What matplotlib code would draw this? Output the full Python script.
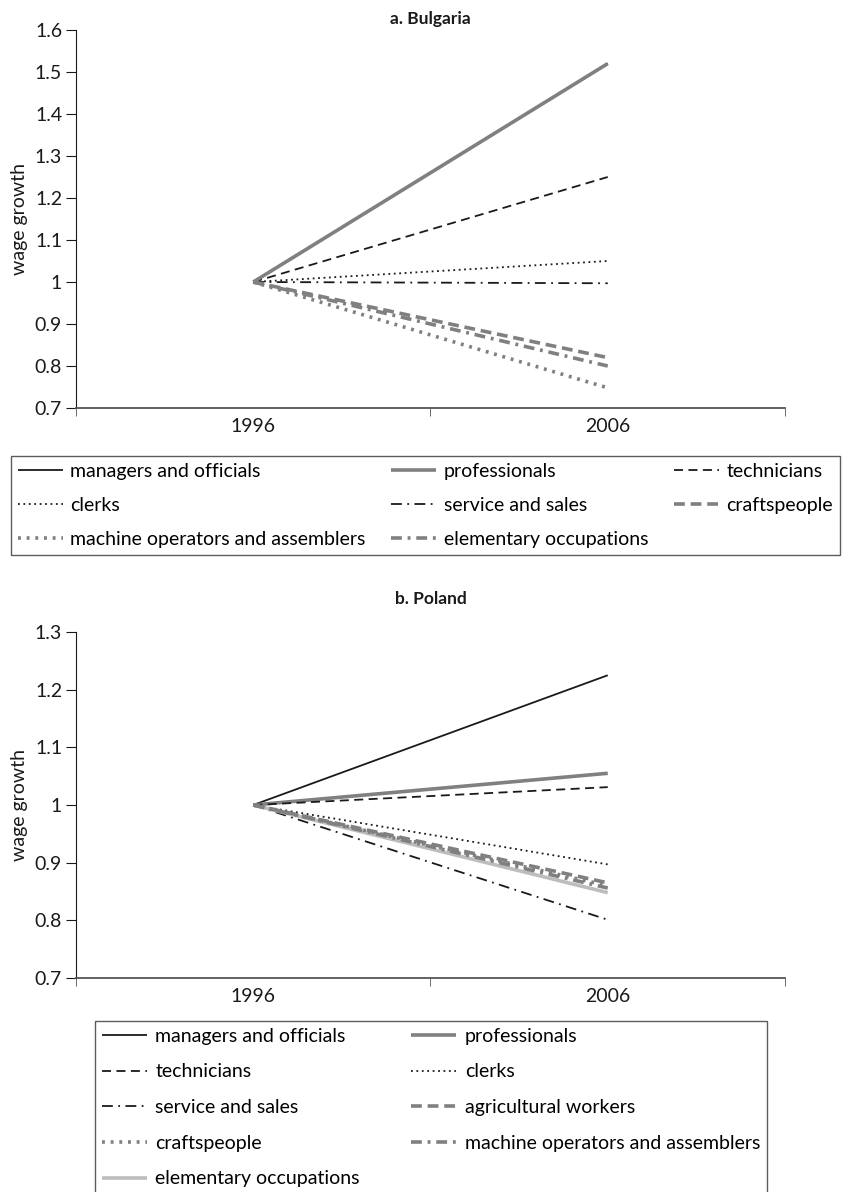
import matplotlib
matplotlib.use("Agg")
import matplotlib.pyplot as plt
from matplotlib.ticker import FuncFormatter

plt.rcParams['font.family'] = ['Lato', 'DejaVu Sans']

years = ["1996", "2006"]

# Bulgaria
bg_labels = ["managers and officials", "professionals", "technicians", "clerks",
             "service and sales", "craftspeople", "machine operators and assemblers",
             "elementary occupations"]
bg_start = [1.0, 1.0, 1.0, 1.0, 1.0, 1.0, 1.0, 1.0]
bg_end = [1.52, 1.52, 1.25, 1.05, 0.997, 0.82, 0.748, 0.80]

# Poland
pl_labels = ["managers and officials", "professionals", "technicians", "clerks",
             "service and sales", "agricultural workers", "craftspeople",
             "machine operators and assemblers", "elementary occupations"]
pl_start = [1.0, 1.0, 1.0, 1.0, 1.0, 1.0, 1.0, 1.0, 1.0]
pl_end = [1.225, 1.055, 1.031, 0.897, 0.801, 0.865, 0.860, 0.856, 0.848]

DK = "#1a1a1a"
GR = "#808080"
LG = "#bdbdbd"
FS = 14

styles = {
    "managers and officials": dict(color=DK, lw=1.3, ls="-"),
    "professionals": dict(color=GR, lw=2.6, ls="-"),
    "technicians": dict(color=DK, lw=1.3, ls=(0, (5, 3))),
    "clerks": dict(color=DK, lw=1.3, ls=(0, (1, 2))),
    "service and sales": dict(color=DK, lw=1.3, ls=(0, (6, 3, 1, 3))),
    "craftspeople_bg": dict(color=GR, lw=2.6, ls=(0, (3, 1.6))),
    "machine_bg": dict(color=GR, lw=2.6, ls=(0, (0.8, 1.6))),
    "elementary_bg": dict(color=GR, lw=2.6, ls=(0, (3, 1.6, 0.8, 1.6))),
    "agricultural workers": dict(color=GR, lw=2.6, ls=(0, (3, 1.6))),
    "craftspeople_pl": dict(color=GR, lw=2.6, ls=(0, (0.8, 1.6))),
    "machine_pl": dict(color=GR, lw=2.6, ls=(0, (3, 1.6, 0.8, 1.6))),
    "elementary_pl": dict(color=LG, lw=2.6, ls="-"),
}

bg_style_keys = ["managers and officials", "professionals", "technicians", "clerks",
                 "service and sales", "craftspeople_bg", "machine_bg", "elementary_bg"]
pl_style_keys = ["managers and officials", "professionals", "technicians", "clerks",
                 "service and sales", "agricultural workers", "craftspeople_pl",
                 "machine_pl", "elementary_pl"]

W, H = 845, 1192
fig = plt.figure(figsize=(W / 100, H / 100), dpi=100)

def fx(px):
    return px / W

def fy(py):
    return 1 - py / H

def style_axes(ax, ymin, ymax, step):
    ax.set_xlim(-0.5, 1.5)
    ax.set_ylim(ymin, ymax)
    n = int(round((ymax - ymin) / step))
    ax.set_yticks([ymin + i * step for i in range(n + 1)])
    ax.yaxis.set_major_formatter(FuncFormatter(lambda v, p: f"{round(v, 2):g}"))
    ax.set_xticks([0, 1])
    ax.set_xticklabels(years)
    ax.set_xticks([-0.5, 0.5, 1.5], minor=True)
    ax.tick_params(axis="x", which="major", length=0, labelsize=FS, pad=7, colors=DK)
    ax.tick_params(axis="x", which="minor", length=6, direction="out", color="#555555")
    ax.tick_params(axis="y", length=7, direction="out", labelsize=FS, colors=DK, pad=3)
    for s in ["top", "right"]:
        ax.spines[s].set_visible(False)
    ax.spines["left"].set_color(DK)
    ax.spines["bottom"].set_color("#555555")
    ax.spines["bottom"].set_linewidth(1.3)
    ax.set_ylabel("wage growth", fontsize=FS, color=DK, labelpad=5)

# Top panel
ax1 = fig.add_axes([fx(76), fy(408), fx(785) - fx(76), fy(30) - fy(408)])
handles1 = {}
draw_order = [0, 2, 3, 4, 5, 7, 6, 1]
for i in draw_order:
    h, = ax1.plot([0, 1], [bg_start[i], bg_end[i]], label=bg_labels[i],
                  solid_capstyle="butt", dash_capstyle="butt", **styles[bg_style_keys[i]])
    handles1[i] = h
style_axes(ax1, 0.7, 1.6, 0.1)
ax1.set_title("a. Bulgaria", fontsize=12.5, fontweight="bold", pad=4, color=DK)

order1 = [0, 3, 6, 1, 4, 7, 2, 5]
leg1 = fig.legend([handles1[i] for i in order1], [bg_labels[i] for i in order1],
                  loc="upper left", bbox_to_anchor=(fx(11), fy(456), fx(840) - fx(11), 0),
                  mode="expand", ncol=3, fontsize=FS, frameon=True, fancybox=False,
                  edgecolor="#333333", handlelength=2.3, handletextpad=0.4,
                  labelspacing=0.88, borderpad=0.35, borderaxespad=0)
leg1.get_frame().set_linewidth(1.0)

# Bottom panel
ax2 = fig.add_axes([fx(76), fy(978), fx(785) - fx(76), fy(632) - fy(978)])
handles2 = {}
draw_order2 = [0, 1, 2, 3, 4, 8, 5, 6, 7]
for i in draw_order2:
    h, = ax2.plot([0, 1], [pl_start[i], pl_end[i]], label=pl_labels[i],
                  solid_capstyle="butt", dash_capstyle="butt", **styles[pl_style_keys[i]])
    handles2[i] = h
style_axes(ax2, 0.7, 1.3, 0.1)
ax2.set_title("b. Poland", fontsize=12.5, fontweight="bold", pad=20, color=DK)

order2 = [0, 2, 4, 6, 8, 1, 3, 5, 7]
leg2 = fig.legend([handles2[i] for i in order2], [pl_labels[i] for i in order2],
                  loc="upper left", bbox_to_anchor=(fx(95), fy(1021), fx(767) - fx(95), 0),
                  mode="expand", ncol=2, fontsize=FS, frameon=True, fancybox=False,
                  edgecolor="#333333", handlelength=2.3, handletextpad=0.45,
                  labelspacing=0.96, borderpad=0.35, borderaxespad=0)
leg2.get_frame().set_linewidth(1.0)

fig.savefig("out.png", dpi=100)
